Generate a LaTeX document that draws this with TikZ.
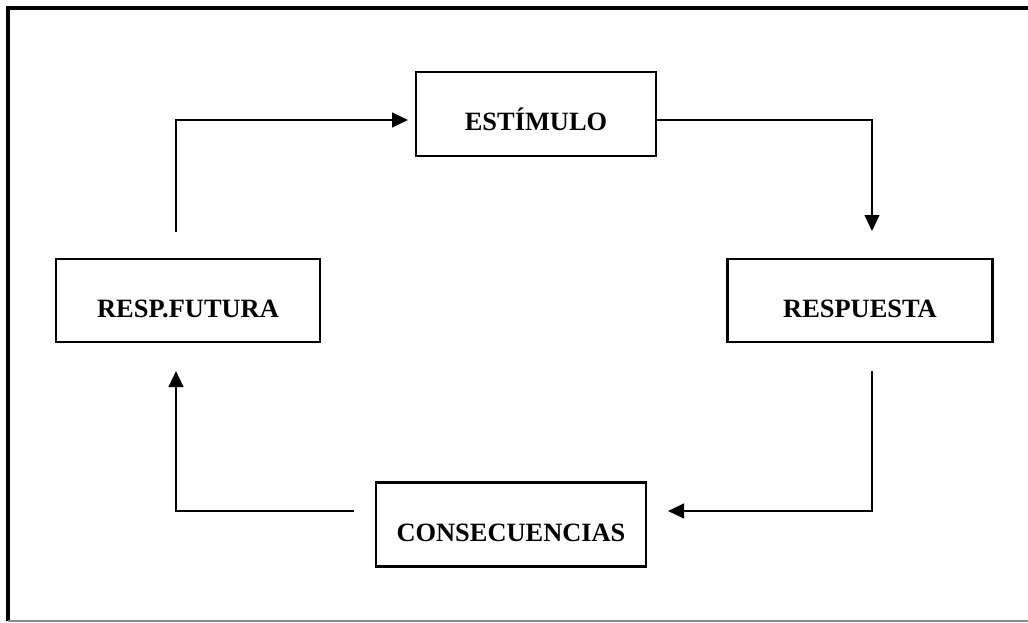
\documentclass[tikz,border=0pt]{standalone}
\usepackage{fontspec}
\setmainfont{Liberation Serif}
\usetikzlibrary{arrows.meta}

\tikzset{
  stage/.style={draw=black, line width=1.8pt, fill=white, rectangle,
    inner sep=0pt, font=\fontsize{19.8}{23}\selectfont\bfseries,
    text height=25pt, text depth=0pt},
  link/.style={draw=black, line width=1.7pt},
  tiplink/.style={link, -{Triangle[length=12pt,width=11pt]}},
}

\begin{document}
\begin{tikzpicture}[x=0.75pt, y=-0.75pt]
  \useasboundingbox (0,0) rectangle (1028,622);

  % outer frame
  \draw[line width=2.4pt] (1040,8) -- (8,8) -- (8,621);
  \draw[line width=1.2pt, black!45] (8,620.8) -- (1040,620.8);

  % stages of the cycle
  \node[stage, minimum width=180pt, minimum height=63pt] (est) at (536,114) {ESTÍMULO};
  \node[stage, minimum width=198.75pt, minimum height=62.5pt] (resp) at (860,300.5) {RESPUESTA};
  \node[stage, minimum width=202.5pt, minimum height=63pt] (cons) at (511,524.5) {CONSECUENCIAS};
  \node[stage, minimum width=198pt, minimum height=62.5pt] (fut) at (188,300.5) {RESP.FUTURA};

  % connector bends and free ends
  \coordinate (k1) at (872,120);
  \coordinate (t1) at (872,231);
  \coordinate (s2) at (872,371);
  \coordinate (k2) at (872,511);
  \coordinate (t2) at (668,511);
  \coordinate (s3) at (354,511);
  \coordinate (k3) at (176,511);
  \coordinate (t3) at (176,371);
  \coordinate (s4) at (176,232);
  \coordinate (k4) at (176,120);
  \coordinate (t4) at (408,120);

  % estímulo -> respuesta
  \draw[tiplink] (est.east |- k1) -- (k1) -- (t1);
  % respuesta -> consecuencias
  \draw[tiplink] (s2) -- (k2) -- (t2);
  % consecuencias -> resp. futura
  \draw[tiplink] (s3) -- (k3) -- (t3);
  % resp. futura -> estímulo
  \draw[tiplink] (s4) -- (k4) -- (t4);
\end{tikzpicture}
\end{document}
